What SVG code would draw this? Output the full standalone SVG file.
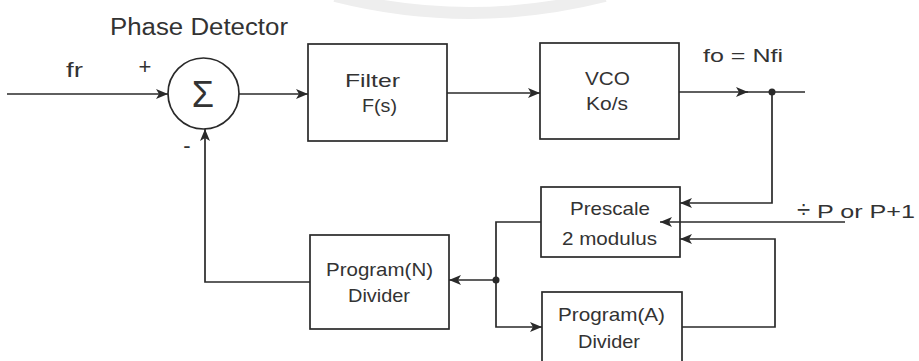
<svg xmlns="http://www.w3.org/2000/svg" width="919" height="361" viewBox="0 0 919 361">
<style>
.box{fill:#fff;stroke:#2a2a2a;stroke-width:1.7}
.ln{fill:none;stroke:#2a2a2a;stroke-width:1.7}
.t{font-family:"Liberation Sans",Arial,sans-serif;fill:#333;font-weight:normal}
</style>
<defs>
<marker id="ah" viewBox="0 0 12 10" refX="12" refY="5" markerWidth="12" markerHeight="10" markerUnits="userSpaceOnUse" orient="auto">
<path d="M0,0 L12,5 L0,10 L3,5 Z" fill="#2a2a2a"/>
</marker>
</defs>
<rect width="919" height="361" fill="#fff"/>
<path d="M335,-4 Q470,30 605,-4" fill="none" stroke="#eeeeee" stroke-width="12"/>
<text class="t" x="110" y="35" font-size="23" textLength="178" lengthAdjust="spacingAndGlyphs">Phase Detector</text>
<text class="t" x="66" y="77" font-size="21" textLength="17" lengthAdjust="spacingAndGlyphs">fr</text>
<text class="t" x="145" y="74" font-size="22" text-anchor="middle">+</text>
<text class="t" x="187" y="153" font-size="22" text-anchor="middle">-</text>
<text class="t" x="703" y="62" font-size="19" textLength="80" lengthAdjust="spacingAndGlyphs">fo = Nfi</text>
<text class="t" x="797" y="218" font-size="19"><tspan font-size="24">÷</tspan><tspan x="817" textLength="98" lengthAdjust="spacingAndGlyphs">P or P+1</tspan></text>
<g id="sum">
<circle cx="203.5" cy="93.5" r="35.5" class="box"/>
<text class="t" x="203" y="107" font-size="36" text-anchor="middle">Σ</text>
</g>
<g id="filter">
<rect x="308" y="44" width="139" height="97" class="box"/>
<text class="t" x="345" y="87" font-size="19" textLength="55" lengthAdjust="spacingAndGlyphs">Filter</text>
<text class="t" x="362" y="112" font-size="19" textLength="35" lengthAdjust="spacingAndGlyphs">F(s)</text>
</g>
<g id="vco">
<rect x="540" y="43" width="139" height="96" class="box"/>
<text class="t" x="585" y="85" font-size="19" textLength="45" lengthAdjust="spacingAndGlyphs">VCO</text>
<text class="t" x="586" y="110" font-size="19" textLength="42" lengthAdjust="spacingAndGlyphs">Ko/s</text>
</g>
<g id="prescale">
<rect x="541" y="187" width="139" height="70" class="box"/>
<text class="t" x="570" y="215" font-size="19" textLength="80" lengthAdjust="spacingAndGlyphs">Prescale</text>
<text class="t" x="562" y="245" font-size="19" textLength="95" lengthAdjust="spacingAndGlyphs">2 modulus</text>
</g>
<g id="progN">
<rect x="310" y="235" width="139" height="94" class="box"/>
<text class="t" x="326" y="276" font-size="19" textLength="107" lengthAdjust="spacingAndGlyphs">Program(N)</text>
<text class="t" x="348" y="302" font-size="19" textLength="62" lengthAdjust="spacingAndGlyphs">Divider</text>
</g>
<g id="progA">
<rect x="542" y="292" width="140" height="75" class="box"/>
<text class="t" x="558" y="321" font-size="19" textLength="107" lengthAdjust="spacingAndGlyphs">Program(A)</text>
<text class="t" x="578" y="348" font-size="19" textLength="62" lengthAdjust="spacingAndGlyphs">Divider</text>
</g>
<g id="connectors">
<line x1="7" y1="94" x2="168" y2="94" class="ln" marker-end="url(#ah)"/>
<line x1="239" y1="94" x2="308" y2="94" class="ln" marker-end="url(#ah)"/>
<line x1="447" y1="93" x2="540" y2="93" class="ln" marker-end="url(#ah)"/>
<line x1="679" y1="92" x2="748" y2="92" class="ln" marker-end="url(#ah)"/>
<line x1="745" y1="92" x2="805" y2="92" class="ln"/>
<circle cx="772" cy="92" r="3.5" fill="#2a2a2a"/>
<polyline points="772,92 772,203 680,203" class="ln" marker-end="url(#ah)"/>
<line x1="845" y1="222" x2="660" y2="222" class="ln" marker-end="url(#ah)"/>
<polyline points="682,327 775,327 775,239 680,239" class="ln" marker-end="url(#ah)"/>
<polyline points="541,222 496,222 496,327 542,327" class="ln" marker-end="url(#ah)"/>
<circle cx="496" cy="280" r="3.5" fill="#2a2a2a"/>
<line x1="496" y1="280" x2="449" y2="280" class="ln" marker-end="url(#ah)"/>
<polyline points="310,282 205,282 205,129" class="ln" marker-end="url(#ah)"/>
</g>
</svg>
